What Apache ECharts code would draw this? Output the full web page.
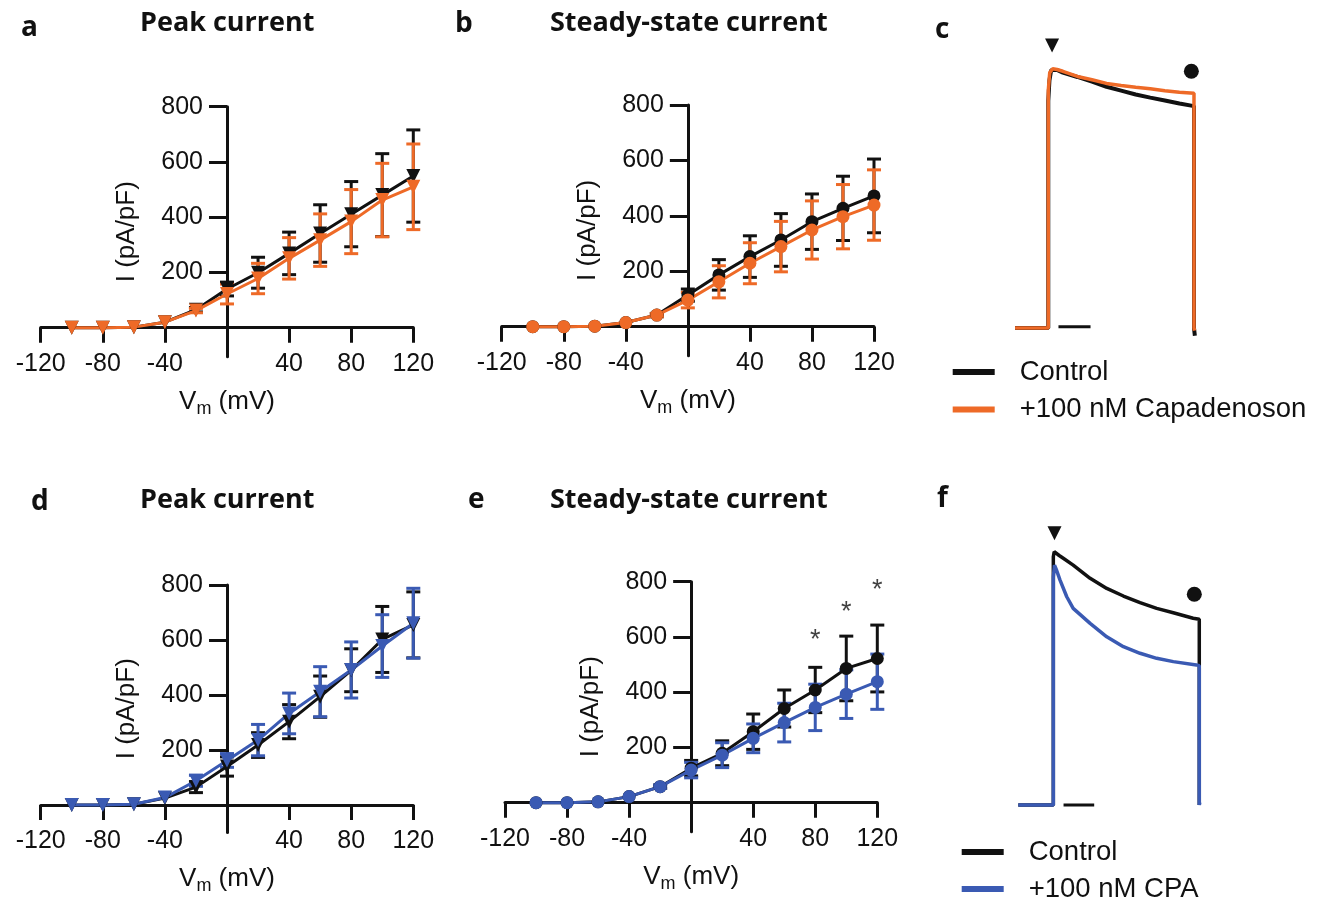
<!DOCTYPE html>
<html>
<head>
<meta charset="utf-8">
<script src="https://cdn.jsdelivr.net/npm/echarts@6/dist/echarts.min.js"></script>
<style>
html,body{margin:0;padding:0;background:#fff;}
#chart{width:1324px;height:899px;}
</style>
</head>
<body>
<div id="chart"></div>
<script>
// ---------- data ----------
const vm = [-100, -80, -60, -40, -20, 0, 20, 40, 60, 80, 100, 120];
const xTicks = [-120, -80, -40, 40, 80, 120];
const yTicks = [200, 400, 600, 800];

// a: peak current, control vs capadenoson
const aCtrl    = [0, 0, 2, 20, 65, 140, 199, 269, 341, 411, 480, 549];
const aCtrlSem = [0, 0, 0, 3, 8, 25, 56, 77, 104, 118, 150, 167];
const aCap     = [0, 0, 2, 20, 62, 122, 178, 251, 317, 384, 462, 510];
const aCapSem  = [0, 0, 0, 3, 8, 36, 55, 75, 95, 116, 133, 155];
// b: steady-state current, control vs capadenoson
const bCtrl    = [0, 0, 2, 15, 42, 114, 187, 253, 313, 379, 427, 472];
const bCtrlSem = [0, 0, 0, 3, 6, 22, 55, 75, 95, 100, 116, 133];
const bCap     = [0, 0, 2, 15, 42, 96, 162, 229, 289, 349, 397, 439];
const bCapSem  = [0, 0, 0, 3, 6, 28, 58, 74, 91, 105, 116, 127];
// d: peak current, control vs CPA
const dCtrl    = [0, 0, 3, 25, 65, 140, 218, 303, 394, 490, 602, 655];
const dCtrlSem = [0, 0, 0, 4, 20, 35, 45, 62, 75, 78, 120, 120];
const dCpa     = [0, 0, 3, 27, 88, 162, 236, 333, 412, 491, 578, 661];
const dCpaSem  = [0, 0, 0, 4, 20, 25, 57, 74, 91, 102, 114, 127];
// e: steady-state current, control vs CPA
const eCtrl    = [0, 0, 3, 22, 58, 125, 179, 257, 341, 408, 486, 522];
const eCtrlSem = [0, 0, 0, 3, 6, 28, 45, 64, 67, 82, 117, 121];
const eCpa     = [0, 0, 3, 22, 58, 118, 172, 233, 290, 345, 393, 438];
const eCpaSem  = [0, 0, 0, 3, 6, 28, 45, 52, 70, 84, 88, 100];
// significance marks in e
const eStars = [[80, 620], [100, 722], [120, 800]];

// c: current traces (time ms, normalised current)
const cCtrlTrace = [[-114,0],[0,0],[0,88],[4,96],[10,100],[15,100.5],[30,100],[50,99],[100,97.3],[150,95.5],[200,93.5],[250,92],[300,90.5],[350,89.3],[400,88.2],[450,87],[500,86],[500,0],[503,-3]];
const cCapTrace  = [[-114,0],[0,0],[0,92],[5,99],[15,100.5],[30,100.2],[50,99.5],[100,97.5],[150,96.2],[200,94.8],[250,94],[300,93.3],[350,92.7],[400,92],[450,91.4],[500,91],[500,0],[502,-1]];
const cMarkTri = [[13, 109.5]];
const cMarkDot = [[491, 99.5]];
const cScaleBar = [[35, 0.5], [145, 0.5]];
// f: current traces
const fCtrlTrace = [[-120,0],[0,0],[0,98],[3,100],[6,100],[20,98.5],[34,97.4],[68,94.7],[126,89.5],[183,85.5],[240,82.5],[297,79.9],[354,77.6],[411,75.9],[479,73.7],[500,73.3],[500,0]];
const fCpaTrace  = [[-120,0],[0,0],[0,90],[4,94.7],[10,93],[23,88.8],[46,82.2],[68,77.6],[126,71.7],[183,66.4],[240,62.5],[297,59.9],[354,57.9],[411,56.6],[490,55.3],[500,55],[500,0],[502,1]];
const fMarkTri = [[4, 107.3]];
const fMarkDot = [[483, 83.2]];
const fScaleBar = [[35, 0], [140, 0]];

// ---------- styling ----------
const BLACK = '#111111', ORANGE = '#EE6A27', BLUE = '#3A5AB3';
const NUM_FONT = 'Liberation Sans';
const TITLE_FONT = 'Open Sans';
const X_MIN = -120, X_MAX = 120, Y_MAX = 800;

const ivGrids = [
  {left: 40.7, top: 106.7, width: 372.6, height: 250, ymin: -105},   // a
  {left: 501.7, top: 105, width: 372.3, height: 250.8, ymin: -105},  // b
  {left: 40.7, top: 585, width: 372.6, height: 247.5, ymin: -100},   // d
  {left: 505, top: 581.7, width: 372.3, height: 250, ymin: -105}     // e
];
const traceGrids = [
  {left: 1013.3, top: 44.2, width: 183.6, height: 309.6},  // c
  {left: 1018.3, top: 513.7, width: 183.9, height: 316.6}  // f
];
const grids = ivGrids.concat(traceGrids).map(g => ({
  left: g.left, top: g.top, width: g.width, height: g.height, containLabel: false, outerBoundsMode: 'none'
}));

function ivX(gi) {
  const g = ivGrids[gi];
  return {
    type: 'value', gridIndex: gi, min: X_MIN, max: X_MAX, interval: 40, position: 'bottom',
    offset: -g.height * (0 - g.ymin) / (Y_MAX - g.ymin),
    axisLine: {onZero: false, lineStyle: {color: BLACK, width: 3}},
    axisTick: {length: 15, lineStyle: {color: BLACK, width: 3}, customValues: xTicks},
    axisLabel: {customValues: xTicks, margin: 24, fontSize: 25, color: BLACK, fontFamily: NUM_FONT},
    splitLine: {show: false},
    name: 'V{s|m} (mV)', nameLocation: 'middle', nameGap: 58,
    nameTextStyle: {fontSize: 26, color: BLACK, fontFamily: NUM_FONT,
      rich: {s: {fontSize: 18, color: BLACK, fontFamily: NUM_FONT, padding: [14, 0, 0, 0]}}}
  };
}
function ivY(gi) {
  const g = ivGrids[gi];
  return {
    type: 'value', gridIndex: gi, min: g.ymin, max: Y_MAX, position: 'left',
    offset: -g.width * (0 - X_MIN) / (X_MAX - X_MIN),
    axisLine: {onZero: false, lineStyle: {color: BLACK, width: 3}},
    axisTick: {length: 18, lineStyle: {color: BLACK, width: 3}, customValues: yTicks},
    axisLabel: {customValues: yTicks, margin: 24, fontSize: 25, color: BLACK, fontFamily: NUM_FONT},
    splitLine: {show: false},
    name: 'I (pA/pF)', nameLocation: 'middle', nameGap: 87,
    nameTextStyle: {fontSize: 26, color: BLACK, fontFamily: NUM_FONT}
  };
}
function hiddenX(gi) { return {type: 'value', gridIndex: gi, min: -120, max: 510, show: false}; }
function hiddenY(gi, mn, mx) { return {type: 'value', gridIndex: gi, min: mn, max: mx, show: false}; }

function ivLine(name, axis, vals, color, symbol) {
  return {
    name, type: 'line', xAxisIndex: axis, yAxisIndex: axis,
    data: vm.map((x, i) => [x, vals[i]]),
    symbol: symbol === 'tri' ? 'triangle' : 'circle',
    symbolRotate: symbol === 'tri' ? 180 : 0,
    symbolSize: symbol === 'tri' ? 14 : 13,
    showSymbol: true, showAllSymbol: true,
    lineStyle: {color, width: 3}, itemStyle: {color, opacity: 1},
    emphasis: {disabled: true}, silent: true, z: 3
  };
}
function errBars(name, axis, vals, sems, color) {
  const data = [];
  vm.forEach((x, i) => { if (sems[i] > 5) data.push([x, vals[i] - sems[i], vals[i] + sems[i]]); });
  return {
    name, type: 'custom', xAxisIndex: axis, yAxisIndex: axis, data, clip: false, silent: true, z: 2,
    encode: {x: 0, y: [1, 2]},
    renderItem: (params, api) => {
      const x = api.value(0);
      const hi = api.coord([x, api.value(2)]);
      const lo = api.coord([x, api.value(1)]);
      const w = 7, st = {stroke: color, lineWidth: 3};
      return {type: 'group', children: [
        {type: 'line', shape: {x1: hi[0], y1: hi[1], x2: lo[0], y2: lo[1]}, style: st},
        {type: 'line', shape: {x1: hi[0] - w, y1: hi[1], x2: hi[0] + w, y2: hi[1]}, style: st},
        {type: 'line', shape: {x1: lo[0] - w, y1: lo[1], x2: lo[0] + w, y2: lo[1]}, style: st}
      ]};
    }
  };
}
function trace(name, axis, data, color, w) {
  return {name, type: 'line', xAxisIndex: axis, yAxisIndex: axis, data, showSymbol: false, symbol: 'none',
    lineStyle: {color, width: w}, itemStyle: {color}, silent: true, emphasis: {disabled: true}};
}
function marks(axis, data, symbol, size) {
  return {type: 'scatter', xAxisIndex: axis, yAxisIndex: axis, data, symbol, symbolRotate: symbol === 'triangle' ? 180 : 0,
    symbolSize: size, itemStyle: {color: BLACK, opacity: 1}, silent: true};
}

const series = [
  // a
  errBars('a-c-err', 0, aCtrl, aCtrlSem, BLACK), ivLine('a-c', 0, aCtrl, BLACK, 'tri'),
  errBars('a-x-err', 0, aCap, aCapSem, ORANGE), ivLine('a-x', 0, aCap, ORANGE, 'tri'),
  // b
  errBars('b-c-err', 1, bCtrl, bCtrlSem, BLACK), ivLine('b-c', 1, bCtrl, BLACK, 'dot'),
  errBars('b-x-err', 1, bCap, bCapSem, ORANGE), ivLine('b-x', 1, bCap, ORANGE, 'dot'),
  // d
  errBars('d-c-err', 2, dCtrl, dCtrlSem, BLACK), ivLine('d-c', 2, dCtrl, BLACK, 'tri'),
  errBars('d-x-err', 2, dCpa, dCpaSem, BLUE), ivLine('d-x', 2, dCpa, BLUE, 'tri'),
  // e
  errBars('e-c-err', 3, eCtrl, eCtrlSem, BLACK), ivLine('e-c', 3, eCtrl, BLACK, 'dot'),
  errBars('e-x-err', 3, eCpa, eCpaSem, BLUE), ivLine('e-x', 3, eCpa, BLUE, 'dot'),
  {type: 'scatter', xAxisIndex: 3, yAxisIndex: 3, data: eStars, symbolSize: 0, silent: true,
   label: {show: true, position: 'inside', formatter: '*', fontSize: 27, color: BLACK, fontFamily: NUM_FONT, offset: [0, 9]}},
  // c
  trace('Control', 4, cCtrlTrace, BLACK, 4),
  trace('+100 nM Capadenoson', 4, cCapTrace, ORANGE, 3.5),
  marks(4, cMarkTri, 'triangle', 14), marks(4, cMarkDot, 'circle', 15),
  trace('c-bar', 4, cScaleBar, BLACK, 3),
  // f
  trace('Control', 5, fCtrlTrace, BLACK, 3.5),
  trace('+100 nM CPA', 5, fCpaTrace, BLUE, 3.5),
  marks(5, fMarkTri, 'triangle', 14), marks(5, fMarkDot, 'circle', 15),
  trace('f-bar', 5, fScaleBar, BLACK, 3)
];

const legendText = {fontSize: 27.5, color: BLACK, fontFamily: NUM_FONT, lineHeight: 22, padding: [0, 0, 0, 20]};
const legends = [
  {left: 952.7, top: 358, height: 90, padding: 0, orient: 'vertical', itemGap: 9.5, itemWidth: 42, itemHeight: 6, icon: 'rect',
   data: ['Control', '+100 nM Capadenoson'], textStyle: legendText, selectedMode: false},
  {left: 961.7, top: 838, height: 90, padding: 0, orient: 'vertical', itemGap: 9, itemWidth: 42, itemHeight: 6, icon: 'rect',
   data: ['Control', '+100 nM CPA'], textStyle: legendText, selectedMode: false}
];

function label(txt, x, y, size) {
  return {type: 'text', left: x, top: y, style: {text: txt, font: 'bold ' + size + 'px "' + TITLE_FONT + '"', fill: BLACK, verticalAlign: 'top'}};
}
const graphics = [
  label('a', 21, 14, 28), label('Peak current', 140, 10, 27),
  label('b', 455, 10, 28), label('Steady-state current', 550, 10, 27),
  label('c', 935, 16, 28),
  label('d', 31, 488, 28), label('Peak current', 140, 487, 27),
  label('e', 468, 486, 28), label('Steady-state current', 550, 487, 27),
  label('f', 937, 485, 28)
];

const chart = echarts.init(document.getElementById('chart'), null, {renderer: 'canvas'});
chart.setOption({
  animation: false,
  backgroundColor: '#ffffff',
  grid: grids,
  xAxis: [ivX(0), ivX(1), ivX(2), ivX(3), hiddenX(4), hiddenX(5)],
  yAxis: [ivY(0), ivY(1), ivY(2), ivY(3), hiddenY(4, -10, 110), hiddenY(5, -10, 115)],
  legend: legends,
  graphic: graphics,
  series
});
</script>
</body>
</html>
